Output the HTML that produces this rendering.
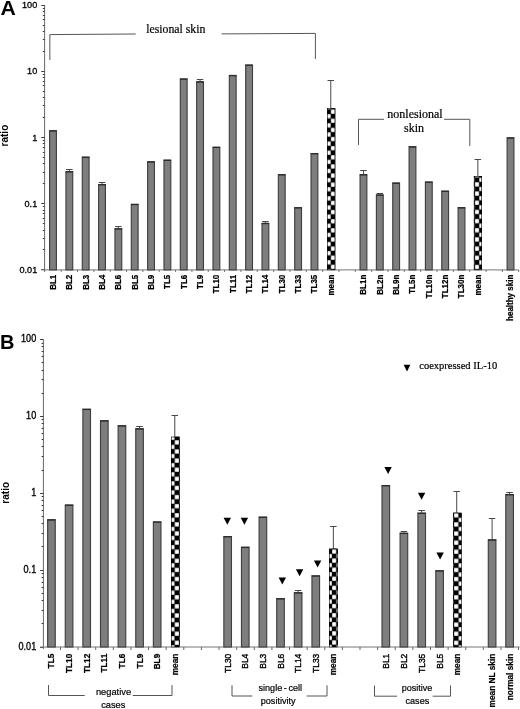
<!DOCTYPE html>
<html><head><meta charset="utf-8"><title>Figure</title>
<style>
html,body{margin:0;padding:0;background:#fff;}
svg{display:block;will-change:transform;font-family:"Liberation Sans",sans-serif;}
.serif{font-family:"Liberation Serif",serif;stroke:#000;stroke-width:0.2px;}
</style></head><body>
<svg width="520" height="709" viewBox="0 0 520 709">
<rect width="520" height="709" fill="#fff"/>
<defs>
<pattern id="chkA" x="330.80" y="109.39" width="8.9" height="9.13" patternUnits="userSpaceOnUse"><rect width="8.9" height="9.13" fill="#000"/><rect x="0.2" y="0.2" width="4.05" height="4.165" fill="#fff"/><rect x="4.65" y="4.765" width="4.05" height="4.165" fill="#fff"/></pattern>
<pattern id="chkA2" x="479.15" y="177.51" width="8.9" height="9.18" patternUnits="userSpaceOnUse"><rect width="8.9" height="9.18" fill="#000"/><rect x="0.2" y="0.2" width="4.05" height="4.190" fill="#fff"/><rect x="4.65" y="4.790" width="4.05" height="4.190" fill="#fff"/></pattern>
<pattern id="chkB7" x="174.60" y="440.12" width="9.3" height="9.11" patternUnits="userSpaceOnUse"><rect width="9.3" height="9.11" fill="#000"/><rect x="0.2" y="0.2" width="4.25" height="4.155" fill="#fff"/><rect x="4.8500000000000005" y="4.755" width="4.25" height="4.155" fill="#fff"/></pattern>
<pattern id="chkB16" x="332.00" y="549.23" width="8.6" height="9.1" patternUnits="userSpaceOnUse"><rect width="8.6" height="9.1" fill="#000"/><rect x="0.2" y="0.2" width="3.9" height="4.150" fill="#fff"/><rect x="4.5" y="4.750" width="3.9" height="4.150" fill="#fff"/></pattern>
<pattern id="chkB23" x="458.50" y="517.62" width="9.4" height="9.11" patternUnits="userSpaceOnUse"><rect width="9.4" height="9.11" fill="#000"/><rect x="0.2" y="0.2" width="4.3" height="4.155" fill="#fff"/><rect x="4.9" y="4.755" width="4.3" height="4.155" fill="#fff"/></pattern>
</defs>

<path d="M44.6 5.1V271.9" stroke="#666" stroke-width="1" fill="none"/>
<text transform="translate(37.2,8.10) scale(1,1.04)" text-anchor="end" font-size="9.1" stroke="#000" stroke-width="0.3">100</text>
<text transform="translate(37.2,74.30) scale(1,1.04)" text-anchor="end" font-size="9.1" stroke="#000" stroke-width="0.3">10</text>
<text transform="translate(37.2,140.50) scale(1,1.04)" text-anchor="end" font-size="9.1" stroke="#000" stroke-width="0.3">1</text>
<text transform="translate(37.2,206.70) scale(1,1.04)" text-anchor="end" font-size="9.1" stroke="#000" stroke-width="0.3">0.1</text>
<text transform="translate(37.2,272.90) scale(1,1.04)" text-anchor="end" font-size="9.1" stroke="#000" stroke-width="0.3">0.01</text>
<path d="M41.30 5.50H44.60M42.80 51.50H44.60M42.80 39.50H44.60M42.80 31.50H44.60M42.80 25.50H44.60M42.80 19.50H44.60M42.80 15.50H44.60M42.80 11.50H44.60M42.80 8.50H44.60M41.30 71.50H44.60M42.80 117.50H44.60M42.80 105.50H44.60M42.80 97.50H44.60M42.80 91.50H44.60M42.80 85.50H44.60M42.80 81.50H44.60M42.80 77.50H44.60M42.80 74.50H44.60M41.30 137.50H44.60M42.80 183.50H44.60M42.80 172.50H44.60M42.80 163.50H44.60M42.80 157.50H44.60M42.80 152.50H44.60M42.80 147.50H44.60M42.80 143.50H44.60M42.80 140.50H44.60M41.30 203.50H44.60M42.80 249.50H44.60M42.80 238.50H44.60M42.80 230.50H44.60M42.80 223.50H44.60M42.80 218.50H44.60M42.80 213.50H44.60M42.80 210.50H44.60M42.80 206.50H44.60M41.30 269.50H44.60" stroke="#3a3a3a" stroke-width="1" fill="none"/>
<path d="M41.300000000000004 269.9H518.6" stroke="#777" stroke-width="1" fill="none"/>
<path d="M61.19 269.9v2M77.53 269.9v2M93.87 269.9v2M110.21 269.9v2M126.55 269.9v2M142.89 269.9v2M159.23 269.9v2M175.57 269.9v2M191.91 269.9v2M208.25 269.9v2M224.59 269.9v2M240.93 269.9v2M257.27 269.9v2M273.61 269.9v2M289.95 269.9v2M306.29 269.9v2M322.63 269.9v2M338.97 269.9v2M355.31 269.9v2M371.65 269.9v2M387.99 269.9v2M404.33 269.9v2M420.67 269.9v2M437.01 269.9v2M453.35 269.9v2M469.69 269.9v2M486.03 269.9v2M502.37 269.9v2M518.71 269.9v2" stroke="#666" stroke-width="1" fill="none"/>
<rect x="49.60" y="130.80" width="6.80" height="139.10" fill="#7e7e7e" stroke="#404040" stroke-width="1.15"/>
<path d="M49.30 130.90H56.70" stroke="#2c2c2c" stroke-width="1.3" fill="none"/>
<text transform="translate(55.95,274.70) rotate(-90) scale(1,1.04)" text-anchor="end" font-size="8" font-weight="bold" stroke="#000" stroke-width="0.2">BL1</text>
<path d="M69.34 171.20V169.50M66.09 169.50H72.59" stroke="#484848" stroke-width="1" fill="none"/>
<rect x="65.94" y="171.70" width="6.80" height="98.20" fill="#7e7e7e" stroke="#404040" stroke-width="1.15"/>
<path d="M65.64 171.80H73.04" stroke="#2c2c2c" stroke-width="1.3" fill="none"/>
<text transform="translate(72.29,274.70) rotate(-90) scale(1,1.04)" text-anchor="end" font-size="8" font-weight="bold" stroke="#000" stroke-width="0.2">BL2</text>
<rect x="82.28" y="157.20" width="6.80" height="112.70" fill="#7e7e7e" stroke="#404040" stroke-width="1.15"/>
<path d="M81.98 157.30H89.38" stroke="#2c2c2c" stroke-width="1.3" fill="none"/>
<text transform="translate(88.63,274.70) rotate(-90) scale(1,1.04)" text-anchor="end" font-size="8" font-weight="bold" stroke="#000" stroke-width="0.2">BL3</text>
<path d="M102.02 184.10V182.50M98.77 182.50H105.27" stroke="#484848" stroke-width="1" fill="none"/>
<rect x="98.62" y="184.60" width="6.80" height="85.30" fill="#7e7e7e" stroke="#404040" stroke-width="1.15"/>
<path d="M98.32 184.70H105.72" stroke="#2c2c2c" stroke-width="1.3" fill="none"/>
<text transform="translate(104.97,274.70) rotate(-90) scale(1,1.04)" text-anchor="end" font-size="8" font-weight="bold" stroke="#000" stroke-width="0.2">BL4</text>
<path d="M118.36 228.30V226.50M115.11 226.50H121.61" stroke="#484848" stroke-width="1" fill="none"/>
<rect x="114.96" y="228.80" width="6.80" height="41.10" fill="#7e7e7e" stroke="#404040" stroke-width="1.15"/>
<path d="M114.66 228.90H122.06" stroke="#2c2c2c" stroke-width="1.3" fill="none"/>
<text transform="translate(121.31,274.70) rotate(-90) scale(1,1.04)" text-anchor="end" font-size="8" font-weight="bold" stroke="#000" stroke-width="0.2">BL6</text>
<rect x="131.30" y="204.40" width="6.80" height="65.50" fill="#7e7e7e" stroke="#404040" stroke-width="1.15"/>
<path d="M131.00 204.50H138.40" stroke="#2c2c2c" stroke-width="1.3" fill="none"/>
<text transform="translate(137.65,274.70) rotate(-90) scale(1,1.04)" text-anchor="end" font-size="8" font-weight="bold" stroke="#000" stroke-width="0.2">BL5</text>
<rect x="147.64" y="161.80" width="6.80" height="108.10" fill="#7e7e7e" stroke="#404040" stroke-width="1.15"/>
<path d="M147.34 161.90H154.74" stroke="#2c2c2c" stroke-width="1.3" fill="none"/>
<text transform="translate(153.99,274.70) rotate(-90) scale(1,1.04)" text-anchor="end" font-size="8" font-weight="bold" stroke="#000" stroke-width="0.2">BL9</text>
<rect x="163.98" y="160.20" width="6.80" height="109.70" fill="#7e7e7e" stroke="#404040" stroke-width="1.15"/>
<path d="M163.68 160.30H171.08" stroke="#2c2c2c" stroke-width="1.3" fill="none"/>
<text transform="translate(170.33,274.70) rotate(-90) scale(1,1.04)" text-anchor="end" font-size="8" font-weight="bold" stroke="#000" stroke-width="0.2">TL5</text>
<rect x="180.32" y="79.00" width="6.80" height="190.90" fill="#7e7e7e" stroke="#404040" stroke-width="1.15"/>
<path d="M180.02 79.10H187.42" stroke="#2c2c2c" stroke-width="1.3" fill="none"/>
<text transform="translate(186.67,274.70) rotate(-90) scale(1,1.04)" text-anchor="end" font-size="8" font-weight="bold" stroke="#000" stroke-width="0.2">TL6</text>
<path d="M200.06 81.30V79.50M196.81 79.50H203.31" stroke="#484848" stroke-width="1" fill="none"/>
<rect x="196.66" y="81.80" width="6.80" height="188.10" fill="#7e7e7e" stroke="#404040" stroke-width="1.15"/>
<path d="M196.36 81.90H203.76" stroke="#2c2c2c" stroke-width="1.3" fill="none"/>
<text transform="translate(203.01,274.70) rotate(-90) scale(1,1.04)" text-anchor="end" font-size="8" font-weight="bold" stroke="#000" stroke-width="0.2">TL9</text>
<rect x="213.00" y="147.30" width="6.80" height="122.60" fill="#7e7e7e" stroke="#404040" stroke-width="1.15"/>
<path d="M212.70 147.40H220.10" stroke="#2c2c2c" stroke-width="1.3" fill="none"/>
<text transform="translate(219.35,274.70) rotate(-90) scale(1,1.04)" text-anchor="end" font-size="8" font-weight="bold" stroke="#000" stroke-width="0.2">TL10</text>
<rect x="229.34" y="75.50" width="6.80" height="194.40" fill="#7e7e7e" stroke="#404040" stroke-width="1.15"/>
<path d="M229.04 75.60H236.44" stroke="#2c2c2c" stroke-width="1.3" fill="none"/>
<text transform="translate(235.69,274.70) rotate(-90) scale(1,1.04)" text-anchor="end" font-size="8" font-weight="bold" stroke="#000" stroke-width="0.2">TL11</text>
<rect x="245.68" y="65.10" width="6.80" height="204.80" fill="#7e7e7e" stroke="#404040" stroke-width="1.15"/>
<path d="M245.38 65.20H252.78" stroke="#2c2c2c" stroke-width="1.3" fill="none"/>
<text transform="translate(252.03,274.70) rotate(-90) scale(1,1.04)" text-anchor="end" font-size="8" font-weight="bold" stroke="#000" stroke-width="0.2">TL12</text>
<path d="M265.42 222.90V221.50M262.17 221.50H268.67" stroke="#484848" stroke-width="1" fill="none"/>
<rect x="262.02" y="223.40" width="6.80" height="46.50" fill="#7e7e7e" stroke="#404040" stroke-width="1.15"/>
<path d="M261.72 223.50H269.12" stroke="#2c2c2c" stroke-width="1.3" fill="none"/>
<text transform="translate(268.37,274.70) rotate(-90) scale(1,1.04)" text-anchor="end" font-size="8" font-weight="bold" stroke="#000" stroke-width="0.2">TL14</text>
<rect x="278.36" y="174.70" width="6.80" height="95.20" fill="#7e7e7e" stroke="#404040" stroke-width="1.15"/>
<path d="M278.06 174.80H285.46" stroke="#2c2c2c" stroke-width="1.3" fill="none"/>
<text transform="translate(284.71,274.70) rotate(-90) scale(1,1.04)" text-anchor="end" font-size="8" font-weight="bold" stroke="#000" stroke-width="0.2">TL30</text>
<rect x="294.70" y="207.70" width="6.80" height="62.20" fill="#7e7e7e" stroke="#404040" stroke-width="1.15"/>
<path d="M294.40 207.80H301.80" stroke="#2c2c2c" stroke-width="1.3" fill="none"/>
<text transform="translate(301.05,274.70) rotate(-90) scale(1,1.04)" text-anchor="end" font-size="8" font-weight="bold" stroke="#000" stroke-width="0.2">TL33</text>
<rect x="311.04" y="153.60" width="6.80" height="116.30" fill="#7e7e7e" stroke="#404040" stroke-width="1.15"/>
<path d="M310.74 153.70H318.14" stroke="#2c2c2c" stroke-width="1.3" fill="none"/>
<text transform="translate(317.39,274.70) rotate(-90) scale(1,1.04)" text-anchor="end" font-size="8" font-weight="bold" stroke="#000" stroke-width="0.2">TL35</text>
<path d="M330.78 108.20V80.50M327.53 80.50H334.03" stroke="#484848" stroke-width="1" fill="none"/>
<rect x="327.10" y="108.20" width="8.20" height="161.70" fill="url(#chkA)"/>
<rect x="327.40" y="108.50" width="7.60" height="161.40" fill="none" stroke="#000" stroke-width="0.6"/>
<text transform="translate(333.73,274.70) rotate(-90) scale(1,1.04)" text-anchor="end" font-size="8" font-weight="bold" stroke="#000" stroke-width="0.2">mean</text>
<path d="M363.46 174.20V170.50M360.21 170.50H366.71" stroke="#484848" stroke-width="1" fill="none"/>
<rect x="360.06" y="174.70" width="6.80" height="95.20" fill="#7e7e7e" stroke="#404040" stroke-width="1.15"/>
<path d="M359.76 174.80H367.16" stroke="#2c2c2c" stroke-width="1.3" fill="none"/>
<text transform="translate(366.41,274.70) rotate(-90) scale(1,1.04)" text-anchor="end" font-size="8" font-weight="bold" stroke="#000" stroke-width="0.2">BL1n</text>
<path d="M379.80 194.50V193.50M376.55 193.50H383.05" stroke="#484848" stroke-width="1" fill="none"/>
<rect x="376.40" y="195.00" width="6.80" height="74.90" fill="#7e7e7e" stroke="#404040" stroke-width="1.15"/>
<path d="M376.10 195.10H383.50" stroke="#2c2c2c" stroke-width="1.3" fill="none"/>
<text transform="translate(382.75,274.70) rotate(-90) scale(1,1.04)" text-anchor="end" font-size="8" font-weight="bold" stroke="#000" stroke-width="0.2">BL2n</text>
<rect x="392.74" y="183.10" width="6.80" height="86.80" fill="#7e7e7e" stroke="#404040" stroke-width="1.15"/>
<path d="M392.44 183.20H399.84" stroke="#2c2c2c" stroke-width="1.3" fill="none"/>
<text transform="translate(399.09,274.70) rotate(-90) scale(1,1.04)" text-anchor="end" font-size="8" font-weight="bold" stroke="#000" stroke-width="0.2">BL9n</text>
<rect x="409.08" y="146.80" width="6.80" height="123.10" fill="#7e7e7e" stroke="#404040" stroke-width="1.15"/>
<path d="M408.78 146.90H416.18" stroke="#2c2c2c" stroke-width="1.3" fill="none"/>
<text transform="translate(415.43,274.70) rotate(-90) scale(1,1.04)" text-anchor="end" font-size="8" font-weight="bold" stroke="#000" stroke-width="0.2">TL5n</text>
<rect x="425.42" y="182.10" width="6.80" height="87.80" fill="#7e7e7e" stroke="#404040" stroke-width="1.15"/>
<path d="M425.12 182.20H432.52" stroke="#2c2c2c" stroke-width="1.3" fill="none"/>
<text transform="translate(431.77,274.70) rotate(-90) scale(1,1.04)" text-anchor="end" font-size="8" font-weight="bold" stroke="#000" stroke-width="0.2">TL10n</text>
<rect x="441.76" y="191.20" width="6.80" height="78.70" fill="#7e7e7e" stroke="#404040" stroke-width="1.15"/>
<path d="M441.46 191.30H448.86" stroke="#2c2c2c" stroke-width="1.3" fill="none"/>
<text transform="translate(448.11,274.70) rotate(-90) scale(1,1.04)" text-anchor="end" font-size="8" font-weight="bold" stroke="#000" stroke-width="0.2">TL12n</text>
<rect x="458.10" y="207.70" width="6.80" height="62.20" fill="#7e7e7e" stroke="#404040" stroke-width="1.15"/>
<path d="M457.80 207.80H465.20" stroke="#2c2c2c" stroke-width="1.3" fill="none"/>
<text transform="translate(464.45,274.70) rotate(-90) scale(1,1.04)" text-anchor="end" font-size="8" font-weight="bold" stroke="#000" stroke-width="0.2">TL30n</text>
<path d="M477.84 176.00V159.50M474.59 159.50H481.09" stroke="#484848" stroke-width="1" fill="none"/>
<rect x="473.90" y="176.00" width="8.10" height="93.90" fill="url(#chkA2)"/>
<rect x="474.20" y="176.30" width="7.50" height="93.60" fill="none" stroke="#000" stroke-width="0.6"/>
<text transform="translate(480.79,274.70) rotate(-90) scale(1,1.04)" text-anchor="end" font-size="8" font-weight="bold" stroke="#000" stroke-width="0.2">mean</text>
<rect x="507.12" y="137.90" width="6.80" height="132.00" fill="#7e7e7e" stroke="#404040" stroke-width="1.15"/>
<path d="M506.82 138.00H514.22" stroke="#2c2c2c" stroke-width="1.3" fill="none"/>
<text transform="translate(513.47,274.70) rotate(-90) scale(1,1.04)" text-anchor="end" font-size="8" font-weight="bold" stroke="#000" stroke-width="0.2">healthy skin</text>
<text transform="translate(8.4,135.6) rotate(-90)" text-anchor="middle" font-size="10" font-weight="bold">ratio</text>
<text transform="translate(0.5,15.4) scale(1.06,1)" font-size="20" font-weight="bold">A</text>
<path d="M49.85 60V34.6L135.7 34M221.6 33.9L315.4 33.4V59" stroke="#555" stroke-width="1" fill="none"/>
<text class="serif" x="146.3" y="32.8" font-size="11.75">lesional skin</text>
<path d="M358.5 145V119.3H384M444 119.3H469.8V146" stroke="#555" stroke-width="1" fill="none"/>
<text class="serif" x="415" y="118" font-size="12" text-anchor="middle">nonlesional</text>
<text class="serif" x="414" y="131.5" font-size="12" text-anchor="middle">skin</text>
<path d="M43.4 339.5V649.0" stroke="#666" stroke-width="1" fill="none"/>
<text transform="translate(36.2,342.30) scale(1,1.12)" text-anchor="end" font-size="9.1" stroke="#000" stroke-width="0.3">100</text>
<text transform="translate(36.2,419.18) scale(1,1.12)" text-anchor="end" font-size="9.1" stroke="#000" stroke-width="0.3">10</text>
<text transform="translate(36.2,496.05) scale(1,1.12)" text-anchor="end" font-size="9.1" stroke="#000" stroke-width="0.3">1</text>
<text transform="translate(36.2,572.92) scale(1,1.12)" text-anchor="end" font-size="9.1" stroke="#000" stroke-width="0.3">0.1</text>
<text transform="translate(36.2,649.80) scale(1,1.12)" text-anchor="end" font-size="9.1" stroke="#000" stroke-width="0.3">0.01</text>
<path d="M40.10 339.50H43.40M41.60 393.50H43.40M41.60 379.50H43.40M41.60 370.50H43.40M41.60 362.50H43.40M41.60 356.50H43.40M41.60 351.50H43.40M41.60 346.50H43.40M41.60 343.50H43.40M40.10 416.50H43.40M41.60 470.50H43.40M41.60 456.50H43.40M41.60 446.50H43.40M41.60 439.50H43.40M41.60 433.50H43.40M41.60 428.50H43.40M41.60 423.50H43.40M41.60 419.50H43.40M40.10 493.50H43.40M41.60 546.50H43.40M41.60 533.50H43.40M41.60 523.50H43.40M41.60 516.50H43.40M41.60 510.50H43.40M41.60 505.50H43.40M41.60 500.50H43.40M41.60 496.50H43.40M40.10 570.50H43.40M41.60 623.50H43.40M41.60 610.50H43.40M41.60 600.50H43.40M41.60 593.50H43.40M41.60 587.50H43.40M41.60 582.50H43.40M41.60 577.50H43.40M41.60 573.50H43.40M40.10 647.50H43.40" stroke="#3a3a3a" stroke-width="1" fill="none"/>
<path d="M40.1 647.0H519.5" stroke="#777" stroke-width="1" fill="none"/>
<path d="M60.47 647.0v3M78.09 647.0v3M95.71 647.0v3M113.33 647.0v3M130.95 647.0v3M148.57 647.0v3M166.19 647.0v3M183.81 647.0v3M201.43 647.0v3M219.05 647.0v3M236.67 647.0v3M254.29 647.0v3M271.91 647.0v3M289.53 647.0v3M307.15 647.0v3M324.77 647.0v3M342.39 647.0v3M360.01 647.0v3M377.63 647.0v3M395.25 647.0v3M412.87 647.0v3M430.49 647.0v3M448.11 647.0v3M465.73 647.0v3M483.35 647.0v3M500.97 647.0v3M518.59 647.0v3" stroke="#666" stroke-width="1" fill="none"/>
<rect x="47.65" y="519.80" width="7.60" height="127.20" fill="#7e7e7e" stroke="#404040" stroke-width="1.15"/>
<path d="M47.35 519.90H55.55" stroke="#2c2c2c" stroke-width="1.3" fill="none"/>
<text transform="translate(54.45,653.70) rotate(-90) scale(1,1.12)" text-anchor="end" font-size="8.3" font-weight="bold" stroke="#000" stroke-width="0.2">TL5</text>
<rect x="65.27" y="505.10" width="7.60" height="141.90" fill="#7e7e7e" stroke="#404040" stroke-width="1.15"/>
<path d="M64.97 505.20H73.17" stroke="#2c2c2c" stroke-width="1.3" fill="none"/>
<text transform="translate(72.07,653.70) rotate(-90) scale(1,1.12)" text-anchor="end" font-size="8.3" font-weight="bold" stroke="#000" stroke-width="0.2">TL10</text>
<rect x="82.89" y="409.30" width="7.60" height="237.70" fill="#7e7e7e" stroke="#404040" stroke-width="1.15"/>
<path d="M82.59 409.40H90.79" stroke="#2c2c2c" stroke-width="1.3" fill="none"/>
<text transform="translate(89.69,653.70) rotate(-90) scale(1,1.12)" text-anchor="end" font-size="8.3" font-weight="bold" stroke="#000" stroke-width="0.2">TL12</text>
<rect x="100.51" y="420.80" width="7.60" height="226.20" fill="#7e7e7e" stroke="#404040" stroke-width="1.15"/>
<path d="M100.21 420.90H108.41" stroke="#2c2c2c" stroke-width="1.3" fill="none"/>
<text transform="translate(107.31,653.70) rotate(-90) scale(1,1.12)" text-anchor="end" font-size="8.3" font-weight="bold" stroke="#000" stroke-width="0.2">TL11</text>
<rect x="118.13" y="425.80" width="7.60" height="221.20" fill="#7e7e7e" stroke="#404040" stroke-width="1.15"/>
<path d="M117.83 425.90H126.03" stroke="#2c2c2c" stroke-width="1.3" fill="none"/>
<text transform="translate(124.93,653.70) rotate(-90) scale(1,1.12)" text-anchor="end" font-size="8.3" font-weight="bold" stroke="#000" stroke-width="0.2">TL6</text>
<path d="M139.55 428.30V426.50M136.30 426.50H142.80" stroke="#484848" stroke-width="1" fill="none"/>
<rect x="135.75" y="428.80" width="7.60" height="218.20" fill="#7e7e7e" stroke="#404040" stroke-width="1.15"/>
<path d="M135.45 428.90H143.65" stroke="#2c2c2c" stroke-width="1.3" fill="none"/>
<text transform="translate(142.55,653.70) rotate(-90) scale(1,1.12)" text-anchor="end" font-size="8.3" font-weight="bold" stroke="#000" stroke-width="0.2">TL9</text>
<rect x="153.37" y="522.00" width="7.60" height="125.00" fill="#7e7e7e" stroke="#404040" stroke-width="1.15"/>
<path d="M153.07 522.10H161.27" stroke="#2c2c2c" stroke-width="1.3" fill="none"/>
<text transform="translate(160.17,653.70) rotate(-90) scale(1,1.12)" text-anchor="end" font-size="8.3" font-weight="bold" stroke="#000" stroke-width="0.2">BL9</text>
<path d="M174.79 436.70V415.50M171.54 415.50H178.04" stroke="#484848" stroke-width="1" fill="none"/>
<rect x="171.00" y="436.70" width="8.90" height="210.30" fill="url(#chkB7)"/>
<rect x="171.30" y="437.00" width="8.30" height="210.00" fill="none" stroke="#000" stroke-width="0.6"/>
<text transform="translate(177.79,653.70) rotate(-90) scale(1,1.12)" text-anchor="end" font-size="8.3" font-weight="bold" stroke="#000" stroke-width="0.2">mean</text>
<rect x="223.85" y="536.60" width="7.60" height="110.40" fill="#7e7e7e" stroke="#404040" stroke-width="1.15"/>
<path d="M223.55 536.70H231.75" stroke="#2c2c2c" stroke-width="1.3" fill="none"/>
<text transform="translate(230.65,653.70) rotate(-90) scale(1,1.12)" text-anchor="end" font-size="8.45" font-weight="normal" stroke="#000" stroke-width="0.35">TL30</text>
<rect x="241.47" y="547.30" width="7.60" height="99.70" fill="#7e7e7e" stroke="#404040" stroke-width="1.15"/>
<path d="M241.17 547.40H249.37" stroke="#2c2c2c" stroke-width="1.3" fill="none"/>
<text transform="translate(248.27,653.70) rotate(-90) scale(1,1.12)" text-anchor="end" font-size="8.45" font-weight="normal" stroke="#000" stroke-width="0.35">BL4</text>
<rect x="259.09" y="517.20" width="7.60" height="129.80" fill="#7e7e7e" stroke="#404040" stroke-width="1.15"/>
<path d="M258.79 517.30H266.99" stroke="#2c2c2c" stroke-width="1.3" fill="none"/>
<text transform="translate(265.89,653.70) rotate(-90) scale(1,1.12)" text-anchor="end" font-size="8.45" font-weight="normal" stroke="#000" stroke-width="0.35">BL3</text>
<rect x="276.71" y="598.70" width="7.60" height="48.30" fill="#7e7e7e" stroke="#404040" stroke-width="1.15"/>
<path d="M276.41 598.80H284.61" stroke="#2c2c2c" stroke-width="1.3" fill="none"/>
<text transform="translate(283.51,653.70) rotate(-90) scale(1,1.12)" text-anchor="end" font-size="8.45" font-weight="normal" stroke="#000" stroke-width="0.35">BL6</text>
<path d="M298.13 592.30V590.50M294.88 590.50H301.38" stroke="#484848" stroke-width="1" fill="none"/>
<rect x="294.33" y="592.80" width="7.60" height="54.20" fill="#7e7e7e" stroke="#404040" stroke-width="1.15"/>
<path d="M294.03 592.90H302.23" stroke="#2c2c2c" stroke-width="1.3" fill="none"/>
<text transform="translate(301.13,653.70) rotate(-90) scale(1,1.12)" text-anchor="end" font-size="8.45" font-weight="normal" stroke="#000" stroke-width="0.35">TL14</text>
<rect x="311.95" y="575.90" width="7.60" height="71.10" fill="#7e7e7e" stroke="#404040" stroke-width="1.15"/>
<path d="M311.65 576.00H319.85" stroke="#2c2c2c" stroke-width="1.3" fill="none"/>
<text transform="translate(318.75,653.70) rotate(-90) scale(1,1.12)" text-anchor="end" font-size="8.45" font-weight="normal" stroke="#000" stroke-width="0.35">TL33</text>
<path d="M333.37 548.60V526.50M330.12 526.50H336.62" stroke="#484848" stroke-width="1" fill="none"/>
<rect x="329.00" y="548.60" width="8.90" height="98.40" fill="url(#chkB16)"/>
<rect x="329.30" y="548.90" width="8.30" height="98.10" fill="none" stroke="#000" stroke-width="0.6"/>
<text transform="translate(336.37,653.70) rotate(-90) scale(1,1.12)" text-anchor="end" font-size="8.3" font-weight="bold" stroke="#000" stroke-width="0.2">mean</text>
<rect x="382.00" y="485.60" width="7.60" height="161.40" fill="#7e7e7e" stroke="#404040" stroke-width="1.15"/>
<path d="M381.70 485.70H389.90" stroke="#2c2c2c" stroke-width="1.3" fill="none"/>
<text transform="translate(388.80,653.70) rotate(-90) scale(1,1.12)" text-anchor="end" font-size="8.45" font-weight="normal" stroke="#000" stroke-width="0.35">BL1</text>
<path d="M403.90 532.80V531.50M400.65 531.50H407.15" stroke="#484848" stroke-width="1" fill="none"/>
<rect x="400.10" y="533.30" width="7.60" height="113.70" fill="#7e7e7e" stroke="#404040" stroke-width="1.15"/>
<path d="M399.80 533.40H408.00" stroke="#2c2c2c" stroke-width="1.3" fill="none"/>
<text transform="translate(406.90,653.70) rotate(-90) scale(1,1.12)" text-anchor="end" font-size="8.45" font-weight="normal" stroke="#000" stroke-width="0.35">BL2</text>
<path d="M421.70 512.70V510.50M418.45 510.50H424.95" stroke="#484848" stroke-width="1" fill="none"/>
<rect x="417.90" y="513.20" width="7.60" height="133.80" fill="#7e7e7e" stroke="#404040" stroke-width="1.15"/>
<path d="M417.60 513.30H425.80" stroke="#2c2c2c" stroke-width="1.3" fill="none"/>
<text transform="translate(424.70,653.70) rotate(-90) scale(1,1.12)" text-anchor="end" font-size="8.45" font-weight="normal" stroke="#000" stroke-width="0.35">TL35</text>
<rect x="435.80" y="570.80" width="7.60" height="76.20" fill="#7e7e7e" stroke="#404040" stroke-width="1.15"/>
<path d="M435.50 570.90H443.70" stroke="#2c2c2c" stroke-width="1.3" fill="none"/>
<text transform="translate(442.60,653.70) rotate(-90) scale(1,1.12)" text-anchor="end" font-size="8.45" font-weight="normal" stroke="#000" stroke-width="0.35">BL5</text>
<path d="M456.71 512.70V491.50M453.46 491.50H459.96" stroke="#484848" stroke-width="1" fill="none"/>
<rect x="453.00" y="512.70" width="8.60" height="134.30" fill="url(#chkB23)"/>
<rect x="453.30" y="513.00" width="8.00" height="134.00" fill="none" stroke="#000" stroke-width="0.6"/>
<text transform="translate(459.71,653.70) rotate(-90) scale(1,1.12)" text-anchor="end" font-size="8.3" font-weight="bold" stroke="#000" stroke-width="0.2">mean</text>
<path d="M492.10 539.40V518.50M488.85 518.50H495.35" stroke="#484848" stroke-width="1" fill="none"/>
<rect x="488.30" y="539.90" width="7.60" height="107.10" fill="#7e7e7e" stroke="#404040" stroke-width="1.15"/>
<path d="M488.00 540.00H496.20" stroke="#2c2c2c" stroke-width="1.3" fill="none"/>
<text transform="translate(495.10,653.70) rotate(-90) scale(1,1.12)" text-anchor="end" font-size="8.3" font-weight="bold" stroke="#000" stroke-width="0.2">mean NL skin</text>
<path d="M509.60 494.10V492.50M506.35 492.50H512.85" stroke="#484848" stroke-width="1" fill="none"/>
<rect x="505.80" y="494.60" width="7.60" height="152.40" fill="#7e7e7e" stroke="#404040" stroke-width="1.15"/>
<path d="M505.50 494.70H513.70" stroke="#2c2c2c" stroke-width="1.3" fill="none"/>
<text transform="translate(512.60,653.70) rotate(-90) scale(1,1.12)" text-anchor="end" font-size="8.3" font-weight="bold" stroke="#000" stroke-width="0.2">normal skin</text>
<path d="M223.60 517.70H231.00L227.30 524.70Z" fill="#000"/>
<path d="M240.70 517.70H248.10L244.40 524.70Z" fill="#000"/>
<path d="M278.60 577.50H286.00L282.30 584.50Z" fill="#000"/>
<path d="M295.90 569.20H303.30L299.60 576.20Z" fill="#000"/>
<path d="M313.90 560.50H321.30L317.60 567.50Z" fill="#000"/>
<path d="M384.40 467.10H391.80L388.10 474.10Z" fill="#000"/>
<path d="M417.90 492.70H425.30L421.60 499.70Z" fill="#000"/>
<path d="M436.40 552.60H443.80L440.10 559.60Z" fill="#000"/>
<text transform="translate(9.3,492.8) rotate(-90)" text-anchor="middle" font-size="10" font-weight="bold">ratio</text>
<text x="0" y="349.4" font-size="20" font-weight="bold">B</text>
<path d="M403.60 364.80H410.40L407.00 371.60Z" fill="#000"/>
<text class="serif" x="419.3" y="369.2" font-size="10.5">coexpressed IL-10</text>
<path d="M48.5 685V695.5H84.7M132.8 695.5H172V685" stroke="#555" stroke-width="1" fill="none"/>
<text x="113.5" y="694.5" font-size="9.3" text-anchor="middle" stroke="#000" stroke-width="0.2">negative</text>
<text x="113.3" y="707.5" font-size="9.3" text-anchor="middle" stroke="#000" stroke-width="0.2">cases</text>
<path d="M232 685.3V696H252.3M306.6 696H327V685.3" stroke="#555" stroke-width="1" fill="none"/>
<text x="280.3" y="690.7" font-size="9.1" word-spacing="-0.9" text-anchor="middle" stroke="#000" stroke-width="0.2">single - cell</text>
<text x="278.2" y="703.8" font-size="9.15" text-anchor="middle" stroke="#000" stroke-width="0.2">positivity</text>
<path d="M374.5 685.5V696.2H397M432.7 696.2H450.5V685.5" stroke="#555" stroke-width="1" fill="none"/>
<text x="417" y="691.2" font-size="9" text-anchor="middle" stroke="#000" stroke-width="0.2">positive</text>
<text x="417.4" y="703.9" font-size="9.1" text-anchor="middle" stroke="#000" stroke-width="0.2">cases</text>
</svg></body></html>
